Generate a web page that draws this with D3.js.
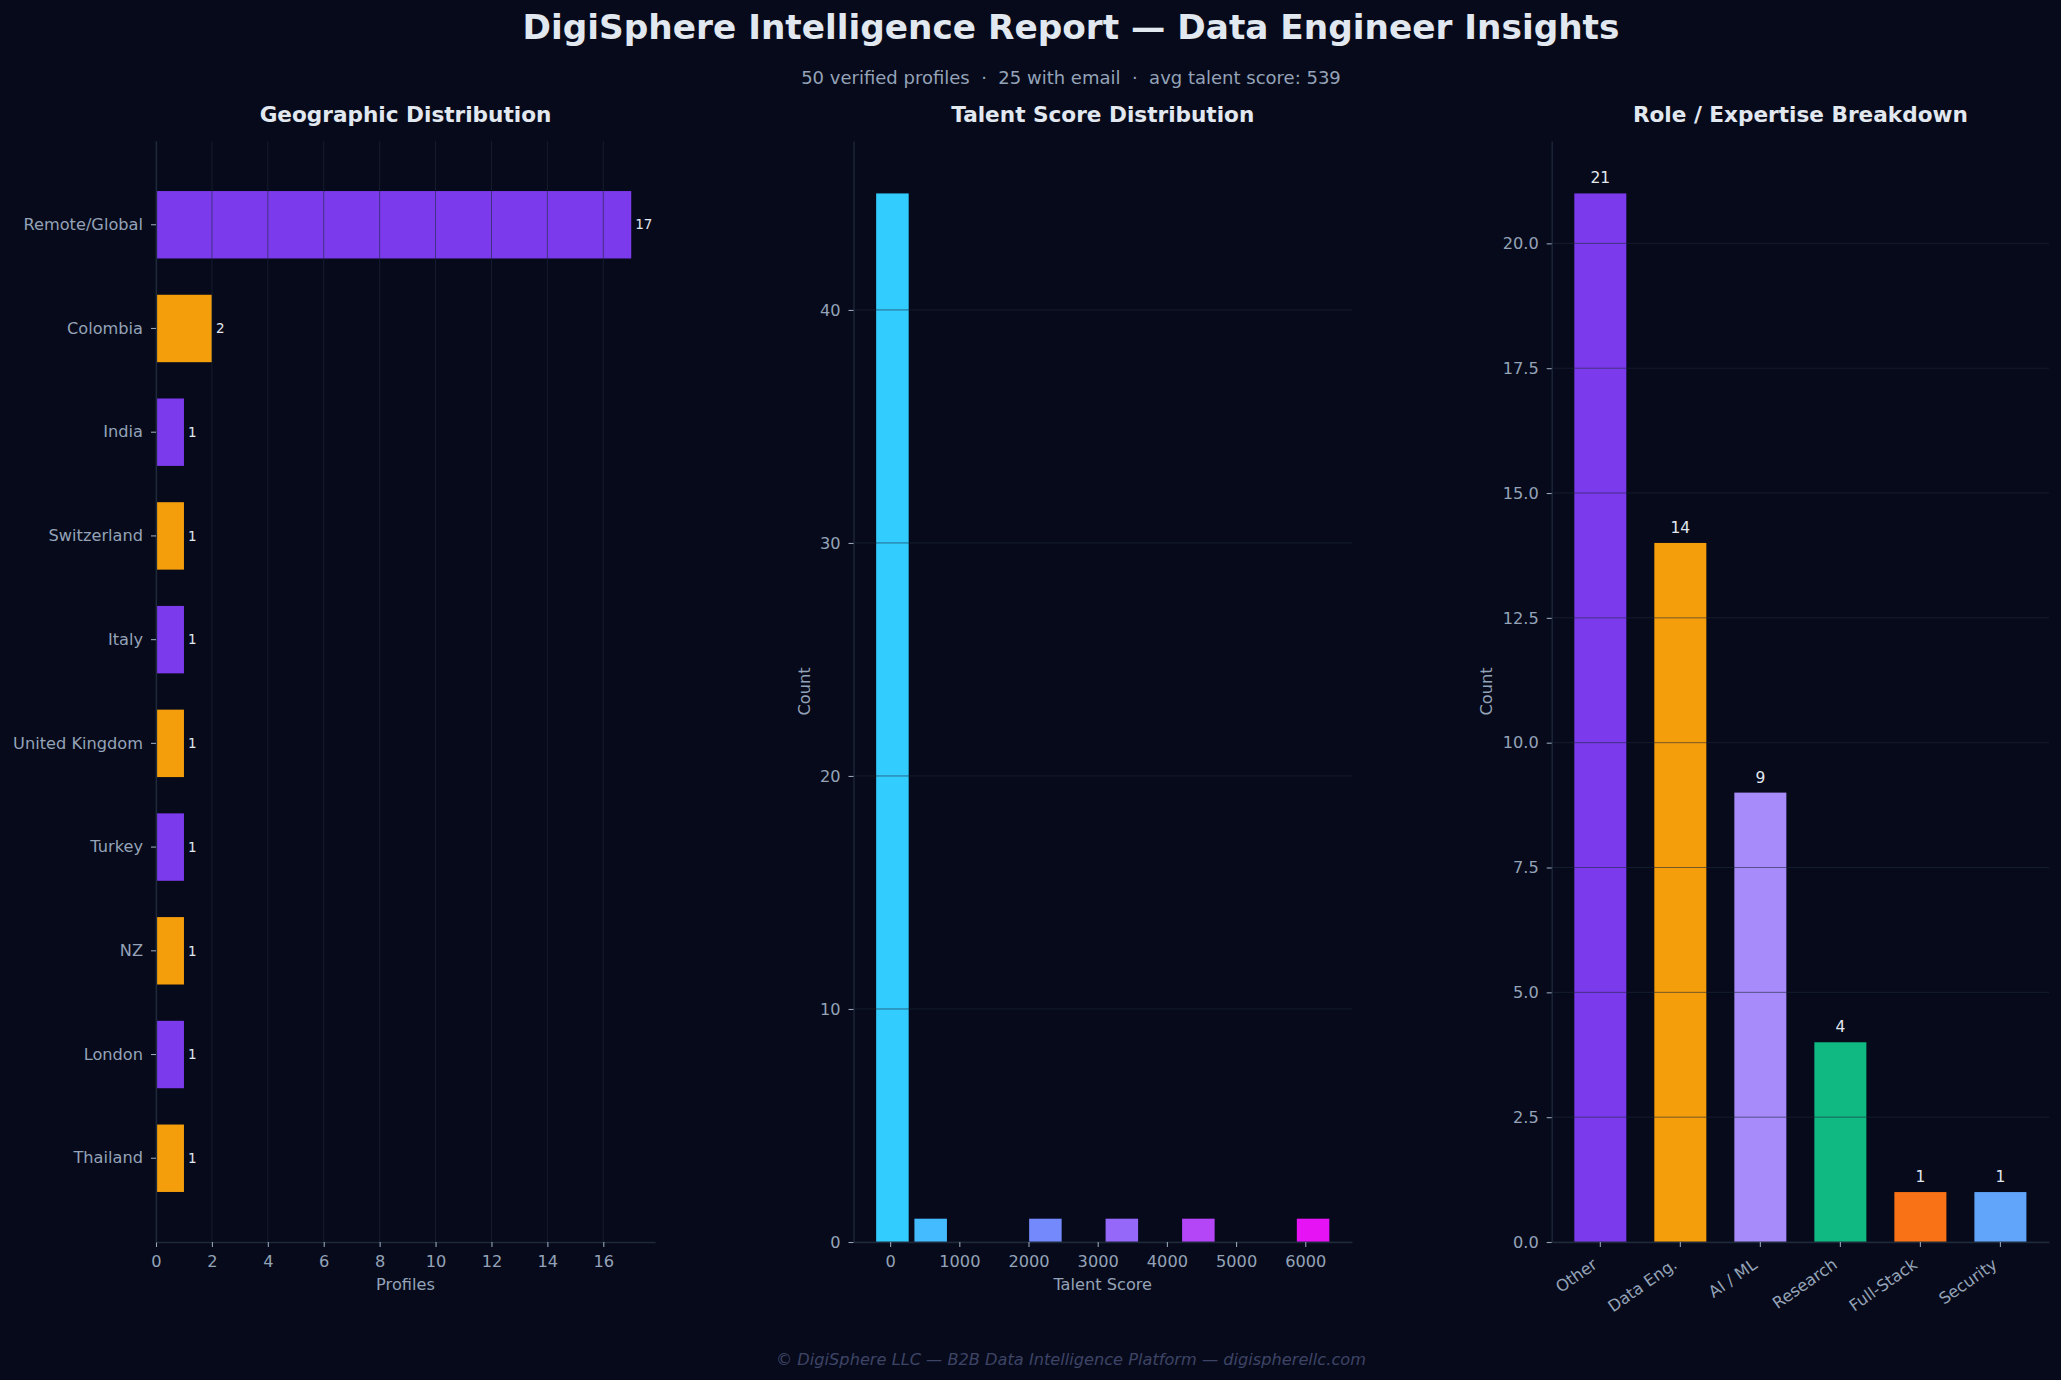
<!DOCTYPE html>
<html>
<head>
<meta charset="utf-8">
<script src="https://cdn.jsdelivr.net/npm/d3@7"></script>
<style>
  html, body { margin: 0; padding: 0; background: #070a1a; }
  svg { display: block; font-family: "DejaVu Sans", sans-serif; }
</style>
</head>
<body>
<div id="chart"></div>
<script>
// ---- data ----
const geoLabels = ["Remote/Global", "Colombia", "India", "Switzerland", "Italy", "United Kingdom", "Turkey", "NZ", "London", "Thailand"];
const geoCounts = [17, 2, 1, 1, 1, 1, 1, 1, 1, 1];
const geoTicks = [0, 2, 4, 6, 8, 10, 12, 14, 16];

const scoreBinCenters = [33, 586, 1138, 1691, 2244, 2797, 3349, 3902, 4455, 5007, 5560, 6113];
const scoreBinCounts = [45, 1, 0, 0, 1, 0, 1, 0, 1, 0, 0, 1];
const scoreTicks = [0, 1000, 2000, 3000, 4000, 5000, 6000];
const histCountTicks = [0, 10, 20, 30, 40];

const roleLabels = ["Other", "Data Eng.", "AI / ML", "Research", "Full-Stack", "Security"];
const roleCounts = [21, 14, 9, 4, 1, 1];
const roleTicks = [0, 2.5, 5, 7.5, 10, 12.5, 15, 17.5, 20];

// ---- style ----
const W = 2061, H = 1380;
const BG = "#070a1a", TXT = "#e2e8f0", MUTED = "#94a3b8", SPINE = "#1e293b";
const geoColors = ["#7c3aed", "#f59e0b"];
const roleColors = ["#7c3aed", "#f59e0b", "#a78bfa", "#10b981", "#f97316", "#60a5fa"];
const histColor = d3.scaleLinear().domain([0, scoreBinCenters.length - 1]).range(["#33ccff", "#e614f5"]);
const plotTop = 141, plotBottom = 1242;
const panels = { geo: [156, 655], score: [853.5, 1352], role: [1551.7, 2049] };
const TICK_FS = "16.2px";

const svg = d3.select("#chart").append("svg").attr("width", W).attr("height", H);
svg.append("rect").attr("width", W).attr("height", H).attr("fill", BG);

const cx = 1071;
svg.append("text").attr("x", cx).attr("y", 39).attr("text-anchor", "middle")
    .attr("fill", TXT).style("font-size", "34.3px").style("font-weight", "bold")
    .text("DigiSphere Intelligence Report — Data Engineer Insights");
svg.append("text").attr("x", cx).attr("y", 84).attr("text-anchor", "middle")
    .attr("fill", MUTED).style("font-size", "18px").style("white-space", "pre")
    .text("50 verified profiles  ·  25 with email  ·  avg talent score: 539");
svg.append("text").attr("x", cx).attr("y", 1365).attr("text-anchor", "middle")
    .attr("fill", "#3d4466").style("font-size", "16.2px").style("font-style", "italic")
    .text("© DigiSphere LLC — B2B Data Intelligence Platform — digispherellc.com");

function panelTitle(range, label) {
    svg.append("text").attr("x", (range[0] + range[1]) / 2).attr("y", 122).attr("text-anchor", "middle")
        .attr("fill", TXT).style("font-size", "21.6px").style("font-weight", "bold").text(label);
}

function styleAxis(g) {
    g.select(".domain").attr("stroke", SPINE).attr("stroke-width", 1.3);
    g.selectAll(".tick line").attr("stroke", MUTED).attr("stroke-width", 1.1);
    g.selectAll(".tick text").attr("fill", MUTED).style("font-size", TICK_FS).style("font-family", "DejaVu Sans");
}

function axisLabel(x, y, label, rotate) {
    const t = svg.append("text").attr("text-anchor", "middle").attr("fill", MUTED).style("font-size", "16.2px").text(label);
    if (rotate) t.attr("transform", `translate(${x},${y}) rotate(-90)`);
    else t.attr("x", x).attr("y", y);
}

// matplotlib-like band: bar width 0.65, 5% data margin
function catScale(labels, range) {
    const outer = 0.05 * (labels.length - 1 + 0.65);
    return d3.scaleBand().domain(labels).range(range).paddingInner(0.35).paddingOuter(outer);
}

// ============ Geographic Distribution ============
{
    const [x0, x1] = panels.geo;
    const x = d3.scaleLinear().domain([0, d3.max(geoCounts) * 1.05]).range([x0, x1]);
    const y = catScale(geoLabels, [plotTop, plotBottom]);
    const data = geoLabels.map((l, i) => ({ l, v: geoCounts[i], i }));
    panelTitle(panels.geo, "Geographic Distribution");

    svg.append("g").selectAll("rect").data(data).enter().append("rect")
        .attr("x", x(0)).attr("y", d => y(d.l)).attr("width", d => x(d.v) - x(0)).attr("height", y.bandwidth())
        .attr("fill", d => geoColors[d.i % 2]);

    // grid sits above the bars
    svg.append("g").selectAll("line").data(geoTicks).enter().append("line")
        .attr("x1", d => x(d)).attr("x2", d => x(d)).attr("y1", plotTop).attr("y2", plotBottom)
        .attr("stroke", SPINE).attr("stroke-opacity", 0.6).attr("stroke-width", 1);

    svg.append("g").selectAll("text").data(data).enter().append("text")
        .attr("x", d => x(d.v) + 4).attr("y", d => y(d.l) + y.bandwidth() / 2).attr("dy", "0.35em")
        .attr("fill", TXT).style("font-size", "13.5px").text(d => d.v);

    svg.append("g").attr("transform", `translate(0,${plotBottom})`)
        .call(d3.axisBottom(x).tickValues(geoTicks).tickSize(5).tickSizeOuter(0).tickPadding(8)).call(styleAxis);
    svg.append("g").attr("transform", `translate(${x0},0)`)
        .call(d3.axisLeft(y).tickSize(5).tickSizeOuter(0).tickPadding(8)).call(styleAxis);
    axisLabel((x0 + x1) / 2, 1290, "Profiles");
}

// ============ Talent Score Distribution ============
{
    const [x0, x1] = panels.score;
    const step = scoreBinCenters[1] - scoreBinCenters[0];
    const barW = step * 0.85;
    const lo = scoreBinCenters[0] - barW / 2, hi = scoreBinCenters[scoreBinCenters.length - 1] + barW / 2;
    const pad = (hi - lo) * 0.05;
    const x = d3.scaleLinear().domain([lo - pad, hi + pad]).range([x0, x1]);
    const y = d3.scaleLinear().domain([0, d3.max(scoreBinCounts) * 1.05]).range([plotBottom, plotTop]);
    const data = scoreBinCenters.map((c, i) => ({ c, v: scoreBinCounts[i], i }));
    panelTitle(panels.score, "Talent Score Distribution");

    svg.append("g").selectAll("rect").data(data.filter(d => d.v > 0)).enter().append("rect")
        .attr("x", d => x(d.c - barW / 2)).attr("width", d => x(d.c + barW / 2) - x(d.c - barW / 2))
        .attr("y", d => y(d.v)).attr("height", d => y(0) - y(d.v))
        .attr("fill", d => histColor(d.i));

    svg.append("g").selectAll("line").data(histCountTicks).enter().append("line")
        .attr("x1", x0).attr("x2", x1).attr("y1", d => y(d)).attr("y2", d => y(d))
        .attr("stroke", SPINE).attr("stroke-opacity", 0.6).attr("stroke-width", 1);

    svg.append("g").attr("transform", `translate(0,${plotBottom})`)
        .call(d3.axisBottom(x).tickValues(scoreTicks).tickFormat(d3.format("d")).tickSize(5).tickSizeOuter(0).tickPadding(8)).call(styleAxis);
    svg.append("g").attr("transform", `translate(${x0},0)`)
        .call(d3.axisLeft(y).tickValues(histCountTicks).tickSize(5).tickSizeOuter(0).tickPadding(8)).call(styleAxis);
    axisLabel((x0 + x1) / 2, 1290, "Talent Score");
    axisLabel(810, (plotTop + plotBottom) / 2, "Count", true);
}

// ============ Role / Expertise Breakdown ============
{
    const [x0, x1] = panels.role;
    const x = catScale(roleLabels, [x0, x1]);
    const y = d3.scaleLinear().domain([0, d3.max(roleCounts) * 1.05]).range([plotBottom, plotTop]);
    const data = roleLabels.map((l, i) => ({ l, v: roleCounts[i], i }));
    panelTitle(panels.role, "Role / Expertise Breakdown");

    svg.append("g").selectAll("rect").data(data).enter().append("rect")
        .attr("x", d => x(d.l)).attr("width", x.bandwidth())
        .attr("y", d => y(d.v)).attr("height", d => y(0) - y(d.v))
        .attr("fill", d => roleColors[d.i]);

    svg.append("g").selectAll("line").data(roleTicks).enter().append("line")
        .attr("x1", x0).attr("x2", x1).attr("y1", d => y(d)).attr("y2", d => y(d))
        .attr("stroke", SPINE).attr("stroke-opacity", 0.6).attr("stroke-width", 1);

    svg.append("g").selectAll("text").data(data).enter().append("text")
        .attr("x", d => x(d.l) + x.bandwidth() / 2).attr("y", d => y(d.v) - 10).attr("text-anchor", "middle")
        .attr("fill", TXT).style("font-size", "15.5px").text(d => d.v);

    const xa = svg.append("g").attr("transform", `translate(0,${plotBottom})`)
        .call(d3.axisBottom(x).tickSize(5).tickSizeOuter(0).tickPadding(6)).call(styleAxis);
    // rotated category labels, right edge pinned to the tick
    xa.selectAll(".tick text").attr("text-anchor", "end").attr("dy", "0.75em")
        .attr("transform", "translate(-9,15) rotate(-35)").attr("y", 0);

    svg.append("g").attr("transform", `translate(${x0},0)`)
        .call(d3.axisLeft(y).tickValues(roleTicks).tickFormat(d3.format(".1f")).tickSize(5).tickSizeOuter(0).tickPadding(8)).call(styleAxis);
    axisLabel(1492, (plotTop + plotBottom) / 2, "Count", true);
}
</script>
</body>
</html>
